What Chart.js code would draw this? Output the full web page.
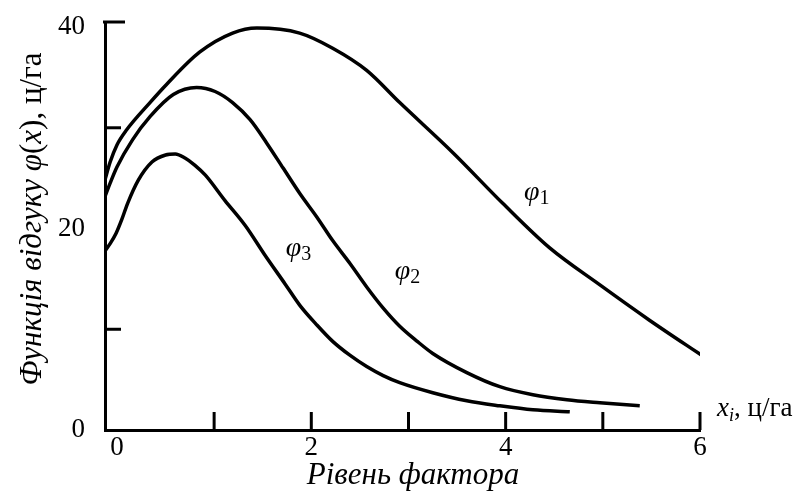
<!DOCTYPE html>
<html>
<head>
<meta charset="utf-8">
<script src="https://cdn.jsdelivr.net/npm/chart.js@4"></script>
<style>
    body { margin: 0; background: #fff; }
    #wrap { width: 806px; height: 493px; }
</style>
</head>
<body>
<div id="wrap"><canvas id="responseChart" width="806" height="493"></canvas></div>
<script>
// Values (x - factor level, y - response, ц/га)
const phi1X = [-0.13, -0.07, 0, 0.1, 0.34, 0.51, 0.85, 1.19, 1.44, 1.88, 2.22, 2.57, 2.91, 3.46, 3.97, 4.45, 4.97, 5.48, 6.05];
const phi1Y = [24.6, 26.6, 28.3, 29.8, 32.5, 34.3, 37.5, 39.4, 39.9, 39.4, 37.9, 35.7, 32.5, 27.5, 22.5, 18.1, 14.4, 10.9, 7.2];

const phi2X = [-0.13, -0.07, 0, 0.16, 0.34, 0.58, 0.82, 1.01, 1.19, 1.37, 1.54, 1.71, 1.88, 2.06, 2.22, 2.4, 2.57, 2.74, 2.91, 3.09, 3.25, 3.6, 3.94, 4.28, 4.63, 4.97, 5.38];
const phi2Y = [23, 24.5, 26.1, 28.8, 31.1, 33.3, 34, 33.6, 32.5, 30.8, 28.5, 26, 23.5, 21.1, 18.8, 16.5, 14.2, 12.1, 10.3, 8.8, 7.6, 5.7, 4.3, 3.5, 3, 2.7, 2.4];

const phi3X = [-0.13, -0.07, -0.01, 0.05, 0.11, 0.22, 0.36, 0.5, 0.6, 0.7, 0.8, 0.91, 1.11, 1.32, 1.52, 1.73, 1.88, 2.06, 2.22, 2.4, 2.57, 2.74, 2.91, 3.25, 3.6, 3.94, 4.28, 4.66];
const phi3Y = [17.7, 18.5, 19.5, 20.9, 22.5, 24.8, 26.6, 27.3, 27.4, 27, 26.3, 25.3, 22.8, 20.3, 17.4, 14.5, 12.4, 10.4, 8.8, 7.4, 6.3, 5.4, 4.7, 3.7, 2.9, 2.4, 2.0, 1.8];

// Axis ticks
const xTickLabels = [0, 2, 4, 6];
const xTickMarks = [1, 2, 3, 4, 5, 6];
const yTickLabels = [0, 20, 40];
const yTickMarks = [10, 30];

// Curve names and where they sit (data coordinates)
const curveNames = ['1', '2', '3'];
const curveNameX = [4.25, 2.92, 1.8];
const curveNameY = [23.6, 15.8, 18.1];

const SERIF = '"Liberation Serif", "Times New Roman", serif';

function toPoints(xs, ys) {
    return xs.map((x, i) => ({ x: x, y: ys[i] }));
}

function curve(xs, ys) {
    return {
        data: toPoints(xs, ys),
        borderColor: '#000',
        borderWidth: 3.5,
        pointRadius: 0,
        cubicInterpolationMode: 'monotone',
        fill: false
    };
}

// Draw text made of pieces with different styles, centred on cx, baseline cy
function drawPieces(ctx, pieces, cx, cy) {
    let total = 0;
    pieces.forEach(p => {
        ctx.font = p.font;
        p.w = ctx.measureText(p.text).width;
        total += p.w;
    });
    let x = cx - total / 2;
    ctx.textBaseline = 'alphabetic';
    ctx.textAlign = 'left';
    pieces.forEach(p => {
        ctx.font = p.font;
        ctx.fillText(p.text, x, cy + (p.dy || 0));
        x += p.w;
    });
}

const extrasPlugin = {
    id: 'extras',
    afterDraw(chart) {
        const ctx = chart.ctx;
        const xs = chart.scales.x;
        const ys = chart.scales.y;
        const area = chart.chartArea;
        ctx.save();
        ctx.strokeStyle = '#000';
        ctx.fillStyle = '#000';
        ctx.lineWidth = 3;

        // inner tick marks on the x axis
        xTickMarks.forEach(v => {
            const px = xs.getPixelForValue(v);
            ctx.beginPath();
            ctx.moveTo(px, area.bottom);
            ctx.lineTo(px, area.bottom - 18);
            ctx.stroke();
        });

        // inner tick marks on the y axis
        yTickMarks.forEach(v => {
            const py = ys.getPixelForValue(v);
            ctx.beginPath();
            ctx.moveTo(area.left, py);
            ctx.lineTo(area.left + 16, py);
            ctx.stroke();
        });

        // stub at the top of the y axis
        ctx.beginPath();
        ctx.moveTo(area.left - 2, area.top);
        ctx.lineTo(area.left + 20, area.top);
        ctx.stroke();

        // y axis title (rotated)
        ctx.save();
        ctx.translate(41, 219);
        ctx.rotate(-Math.PI / 2);
        const it = 'italic 31px ' + SERIF;
        const up = '31px ' + SERIF;
        drawPieces(ctx, [
            { text: 'Функція відгуку ', font: it },
            { text: 'φ', font: it },
            { text: '(', font: up },
            { text: 'x', font: it },
            { text: '), ц/га', font: up }
        ], 0, 0);
        ctx.restore();

        // x axis title
        drawPieces(ctx, [{ text: 'Рівень фактора', font: 'italic 31px ' + SERIF }], 413, 484);

        // unit at the end of the x axis
        ctx.textAlign = 'left';
        ctx.textBaseline = 'alphabetic';
        let ux = 717;
        ctx.font = 'italic 27px ' + SERIF;
        ctx.fillText('x', ux, 416);
        ux += ctx.measureText('x').width;
        ctx.font = 'italic 18px ' + SERIF;
        ctx.fillText('i', ux, 421);
        ux += ctx.measureText('i').width;
        ctx.font = '27px ' + SERIF;
        ctx.fillText(', ц/га', ux, 416);

        // curve names
        curveNames.forEach((n, i) => {
            const px = xs.getPixelForValue(curveNameX[i]);
            const py = ys.getPixelForValue(curveNameY[i]);
            ctx.font = 'italic 28px ' + SERIF;
            ctx.fillText('φ', px - 6, py + 8);
            const w = ctx.measureText('φ').width;
            ctx.font = '20px ' + SERIF;
            ctx.fillText(n, px - 6 + w, py + 12);
        });

        ctx.restore();
    }
};

const chart = new Chart(document.getElementById('responseChart'), {
    type: 'line',
    data: {
        datasets: [
            curve(phi1X, phi1Y),
            curve(phi2X, phi2Y),
            curve(phi3X, phi3Y)
        ]
    },
    options: {
        responsive: false,
        animation: false,
        layout: { padding: { top: 22, right: 106, left: 0, bottom: 0 } },
        plugins: {
            legend: { display: false },
            tooltip: { enabled: false }
        },
        scales: {
            x: {
                type: 'linear',
                min: -0.123,
                max: 6,
                afterBuildTicks: s => { s.ticks = xTickLabels.map(v => ({ value: v })); },
                afterFit: s => { s.height = 63; s.paddingLeft = 0; s.paddingRight = 0; },
                grid: { display: false, drawTicks: false },
                border: { display: true, color: '#000', width: 3 },
                ticks: {
                    color: '#000',
                    padding: 2,
                    maxRotation: 0,
                    font: { family: SERIF, size: 27 }
                }
            },
            y: {
                type: 'linear',
                min: 0,
                max: 40.5,
                afterBuildTicks: s => { s.ticks = yTickLabels.map(v => ({ value: v })); },
                afterFit: s => { s.width = 105; s.paddingTop = 0; s.paddingBottom = 0; },
                grid: { display: false, drawTicks: false },
                border: { display: true, color: '#000', width: 3 },
                ticks: {
                    color: '#000',
                    padding: 20,
                    font: { family: SERIF, size: 27 }
                }
            }
        }
    },
    plugins: [extrasPlugin]
});
</script>
</body>
</html>
